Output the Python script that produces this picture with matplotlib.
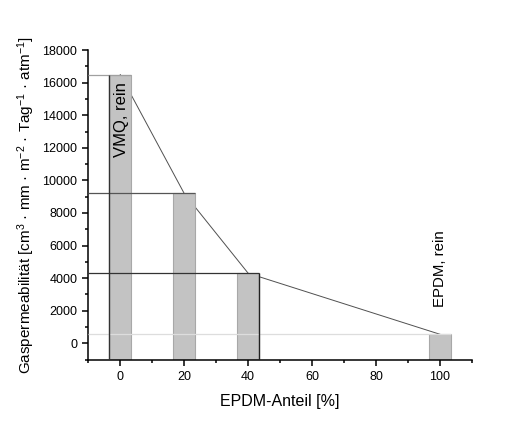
import matplotlib.pyplot as plt
from matplotlib.ticker import MultipleLocator

plt.rcParams['font.family'] = ['Liberation Sans', 'DejaVu Sans']
plt.rcParams['mathtext.fontset'] = 'custom'
plt.rcParams['mathtext.rm'] = 'Liberation Sans'
plt.rcParams['mathtext.default'] = 'regular'

# EPDM share [%] and gas permeability
epdm = [0, 20, 40, 100]
perm = [16500, 9200, 4300, 550]
labels = ['VMQ, rein', 'EPDM, rein']

base = -1000
w = 7

fig = plt.figure(figsize=(5.32, 4.29), dpi=100)
ax = fig.add_axes([0.166, 0.162, 0.721, 0.721])

# connecting line behind the bars
ax.plot(epdm, perm, color='#505050', lw=0.7, zorder=1)

ax.bar(epdm, [p - base for p in perm], bottom=base, width=w,
       color='#c3c3c3', edgecolor='#a8a8a8', lw=0.8, zorder=2)

# drop lines to the y axis
hcol = ['#a0a0a0', '#555555', '#333333', '#dddddd']
for x, p, c in zip(epdm, perm, hcol):
    ax.hlines(p, -10, x + w / 2, color=c, lw=0.9, zorder=3)
ax.vlines(epdm[0] - w / 2, base, perm[0], color='#333333', lw=1.0, zorder=3)
ax.vlines(epdm[2] + w / 2, base, perm[2], color='#222222', lw=1.0, zorder=3)

ax.text(epdm[0] + 0.5, 16050, labels[0], rotation=90, ha='center', va='top',
        fontsize=12, zorder=4)
ax.text(epdm[3], 2250, labels[1], rotation=90, ha='center', va='bottom',
        fontsize=10.8, zorder=4)

ax.set_xlim(-10, 110)
ax.set_ylim(base, 18000)
ax.spines['top'].set_visible(False)
ax.spines['right'].set_visible(False)
for s in ('left', 'bottom'):
    ax.spines[s].set_linewidth(1.1)
ax.xaxis.set_major_locator(MultipleLocator(20))
ax.xaxis.set_minor_locator(MultipleLocator(10))
ax.yaxis.set_major_locator(MultipleLocator(2000))
ax.yaxis.set_minor_locator(MultipleLocator(1000))
ax.tick_params(which='major', direction='out', length=4.5, width=1.1,
               labelsize=9)
ax.tick_params(which='minor', direction='out', length=2.5, width=1.1)

ax.set_xlabel('EPDM-Anteil [%]', fontsize=11.5, labelpad=8)
ax.set_ylabel(r'Gaspermeabilität [cm$^{3}$ · mm · m$^{-2}$ · Tag$^{-1}$ · atm$^{-1}$]',
              fontsize=11, labelpad=4)

fig.savefig('out.png', dpi=100)
